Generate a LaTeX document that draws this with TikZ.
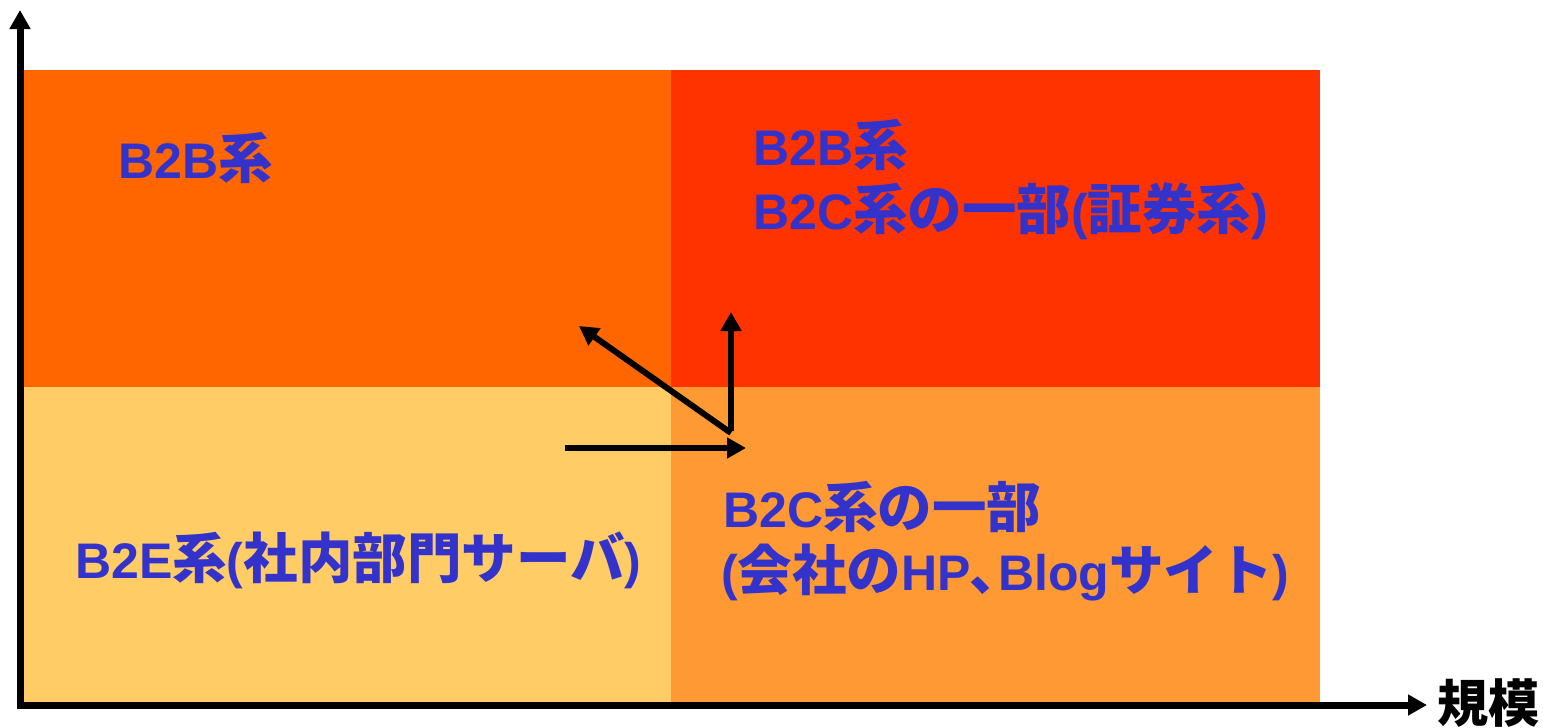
\documentclass[tikz,border=0pt]{standalone}
\usepackage{fontspec}
\setmainfont{Liberation Sans}
\newfontfamily\cjk{Noto Sans CJK JP}[Scale=1.09]
\usetikzlibrary{arrows.meta}
\definecolor{cTL}{HTML}{FF6600}
\definecolor{cTR}{HTML}{FF3300}
\definecolor{cBL}{HTML}{FFCC66}
\definecolor{cBR}{HTML}{FF9933}
\definecolor{txtblue}{HTML}{3333CC}
\newcommand\J[1]{{\cjk\bfseries #1}}
\tikzset{
  lbl/.style={anchor=base west, inner sep=0pt, text=txtblue, font=\bfseries\fontsize{50}{60}\selectfont},
  axis/.style={line width=7pt, -{Triangle[length=19pt,width=20pt]}},
  mover/.style={line width=6pt, -{Triangle[length=19pt,width=20pt]}},
}
\begin{document}
\begin{tikzpicture}[x=1pt,y=-1pt]
\useasboundingbox (0,0) rectangle (1543,728);
% quadrants
\fill[cTL] (23,70) rectangle (671,387);
\fill[cTR] (671,70) rectangle (1320,387);
\fill[cBL] (23,387) rectangle (671,702);
\fill[cBR] (671,387) rectangle (1320,702);
% axes
\coordinate (O) at (20,705);
\coordinate (ytip) at (20,10);
\coordinate (xtip) at (1427,705);
\draw[axis] ([yshift=-3.5pt]O) -- (ytip);
\draw[axis] ([xshift=-3.5pt]O) -- (xtip);
\node[anchor=base west, inner sep=0pt, font=\fontsize{47}{60}\selectfont] (xl) at (1437,722) {\J{規模}};
% labels
\node[lbl] (tl) at (118,178) {B2B\J{系}};
\node[lbl] (tr1) at (753,165) {B2B\J{系}};
\node[lbl] (tr2) at (753,229) {B2C\J{系の一部}(\J{証券系})};
\node[lbl] (br1) at (723,527) {B2C\J{系の一部}};
\node[lbl] (br2) at (721,590) {(\J{会社の}HP\J{､}Blog\J{サイト})};
\node[lbl] (bl) at (75,578) {B2E\J{系}(\J{社内部門サーバ})};
% movement arrows
\coordinate (hs) at (565,448);
\coordinate (he) at (746,448);
\coordinate (c) at (731,433);
\coordinate (vt) at (731,312);
\coordinate (dt) at (579,326);
\draw[mover] (hs) -- (he);
\draw[mover] ([yshift=2.5pt]c) -- (vt);
\draw[mover] (c) -- (dt);
\end{tikzpicture}
\end{document}
